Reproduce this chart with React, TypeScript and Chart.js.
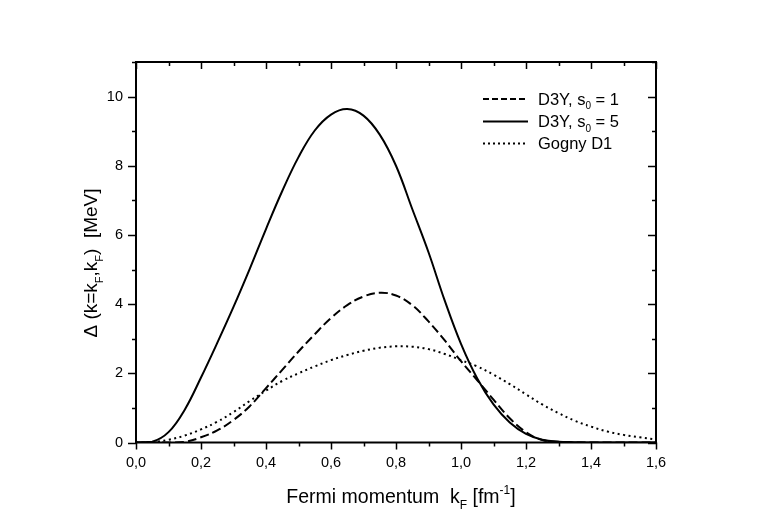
import { useEffect, useRef } from 'react';
import { Chart, registerables } from 'chart.js';

Chart.register(...registerables);

const kF = [0, 0.05, 0.1, 0.15, 0.2, 0.25, 0.3, 0.35, 0.4, 0.45, 0.5, 0.55, 0.6, 0.65, 0.7, 0.75, 0.8, 0.85, 0.9, 0.95, 1.0, 1.05, 1.1, 1.15, 1.2, 1.25, 1.3, 1.35, 1.4, 1.45, 1.5, 1.55, 1.6];
const d3yS1 = [0, 0, 0, 0.02, 0.15, 0.35, 0.65, 1.05, 1.57, 2.1, 2.63, 3.13, 3.6, 3.97, 4.22, 4.33, 4.25, 3.97, 3.5, 2.95, 2.35, 1.8, 1.24, 0.7, 0.3, 0.07, 0.02, 0.0, 0, 0, 0, 0, 0];
const d3yS5 = [0, 0.02, 0.3, 0.95, 1.88, 2.88, 3.92, 5.02, 6.17, 7.27, 8.25, 9.02, 9.48, 9.64, 9.45, 8.9, 8.0, 6.75, 5.5, 4.1, 2.85, 1.85, 1.1, 0.58, 0.25, 0.08, 0.02, 0.01, 0, 0, 0, 0, 0];
const gognyD1 = [0, 0.01, 0.08, 0.2, 0.38, 0.6, 0.88, 1.2, 1.5, 1.78, 2.0, 2.2, 2.38, 2.53, 2.65, 2.74, 2.78, 2.77, 2.7, 2.56, 2.38, 2.2, 1.96, 1.69, 1.39, 1.1, 0.85, 0.63, 0.46, 0.32, 0.22, 0.15, 0.09];

const xMajorTicks = [0, 0.2, 0.4, 0.6, 0.8, 1.0, 1.2, 1.4, 1.6];
const xMinorTicks = [0.1, 0.3, 0.5, 0.7, 0.9, 1.1, 1.3, 1.5];
const yMajorTicks = [0, 2, 4, 6, 8, 10];
const yMinorTicks = [1, 3, 5, 7, 9, 11];

const legendLabels = [
  [{ t: 'D3Y, s' }, { t: '0', k: 'sub' }, { t: ' = 1' }],
  [{ t: 'D3Y, s' }, { t: '0', k: 'sub' }, { t: ' = 5' }],
  [{ t: 'Gogny D1' }],
];
const xTitle = [{ t: 'Fermi momentum  k' }, { t: 'F', k: 'sub' }, { t: ' [fm' }, { t: '-1', k: 'sup' }, { t: ']' }];
const yTitle = [{ t: 'Δ (k=k' }, { t: 'F', k: 'sub' }, { t: ',k' }, { t: 'F', k: 'sub' }, { t: ')  [MeV]' }];

const FONT = "'Liberation Sans', Arial, sans-serif";

type Seg = { t: string; k?: string };

function drawRich(ctx: CanvasRenderingContext2D, segs: Seg[], x: number, y: number, size: number, align: 'left' | 'center') {
  const small = Math.round(size * 0.6);
  const widths = segs.map((s) => {
    ctx.font = `${s.k ? small : size}px ${FONT}`;
    return ctx.measureText(s.t).width;
  });
  const total = widths.reduce((a, b) => a + b, 0);
  let cx = align === 'center' ? x - total / 2 : x;
  ctx.textAlign = 'left';
  ctx.textBaseline = 'alphabetic';
  segs.forEach((s, i) => {
    ctx.font = `${s.k ? small : size}px ${FONT}`;
    let dy = 0;
    if (s.k === 'sub') dy = size * 0.3;
    if (s.k === 'sup') dy = -size * 0.45;
    ctx.fillText(s.t, cx, y + dy);
    cx += widths[i];
  });
}

const framePlugin = {
  id: 'framePlugin',
  afterDraw(chart: any) {
    const { ctx, chartArea } = chart;
    const { left, right, top, bottom } = chartArea;
    const xs = chart.scales.x;
    const ys = chart.scales.y;
    ctx.save();
    ctx.strokeStyle = '#000';
    ctx.fillStyle = '#000';
    ctx.lineWidth = 2;
    ctx.strokeRect(left, top, right - left, bottom - top);
    ctx.lineWidth = 1.5;
    ctx.beginPath();
    const xt = (vals: number[], len: number) => {
      vals.forEach((v) => {
        const p = Math.round(xs.getPixelForValue(v)) + 0.5;
        ctx.moveTo(p, bottom);
        ctx.lineTo(p, bottom + len);
        ctx.moveTo(p, top);
        ctx.lineTo(p, top + len);
      });
    };
    const yt = (vals: number[], len: number) => {
      vals.forEach((v) => {
        const p = Math.round(ys.getPixelForValue(v)) + 0.5;
        ctx.moveTo(left, p);
        ctx.lineTo(left - len, p);
        ctx.moveTo(right, p);
        ctx.lineTo(right - len, p);
      });
    };
    xt(xMajorTicks, 7);
    xt(xMinorTicks, 4);
    yt(yMajorTicks, 8);
    yt(yMinorTicks, 4);
    ctx.stroke();

    // titles
    drawRich(ctx, xTitle, 401, 503, 19.5, 'center');
    ctx.save();
    ctx.translate(97, 263);
    ctx.rotate(-Math.PI / 2);
    drawRich(ctx, yTitle, 0, 0, 19, 'center');
    ctx.restore();

    // legend
    const dashes = [[6, 3], [], [2, 3]];
    const rowY = [99, 121.5, 143.5];
    legendLabels.forEach((segs, i) => {
      ctx.beginPath();
      ctx.lineWidth = 2;
      ctx.setLineDash(dashes[i]);
      ctx.moveTo(483, rowY[i]);
      ctx.lineTo(528, rowY[i]);
      ctx.stroke();
      ctx.setLineDash([]);
      drawRich(ctx, segs, 538, rowY[i] + 5.5, 16.5, 'left');
    });
    ctx.restore();
  },
};

export default function App() {
  const ref = useRef<HTMLCanvasElement>(null);
  useEffect(() => {
    if (!ref.current) return;
    const mk = (vals: number[]) => kF.map((x, i) => ({ x, y: vals[i] }));
    const common = { borderColor: '#000', borderWidth: 2, pointRadius: 0, tension: 0.4, fill: false };
    const chart = new Chart(ref.current, {
      type: 'line',
      data: {
        datasets: [
          { label: 'D3Y, s0 = 1', data: mk(d3yS1), borderDash: [9, 4], ...common },
          { label: 'D3Y, s0 = 5', data: mk(d3yS5), ...common },
          { label: 'Gogny D1', data: mk(gognyD1), borderDash: [2, 3.5], ...common },
        ],
      },
      options: {
        animation: false,
        responsive: false,
        maintainAspectRatio: false,
        layout: { padding: { top: 62, right: 107, bottom: 0, left: 0 } },
        plugins: { legend: { display: false }, tooltip: { enabled: false }, title: { display: false } },
        scales: {
          x: {
            type: 'linear',
            min: 0,
            max: 1.6,
            grid: { display: false, drawTicks: false },
            border: { display: false },
            ticks: {
              stepSize: 0.2,
              padding: 12,
              color: '#000',
              font: { family: FONT, size: 14.5 },
              maxRotation: 0,
              callback: (v: any) => Number(v).toFixed(1).replace('.', ','),
            },
            afterFit: (s: any) => { s.height = 89.5; },
          },
          y: {
            type: 'linear',
            min: 0,
            max: 11,
            grid: { display: false, drawTicks: false },
            border: { display: false },
            ticks: {
              stepSize: 2,
              includeBounds: false,
              padding: 13,
              color: '#000',
              font: { family: FONT, size: 14.5 },
              callback: (v: any) => String(v),
            },
            afterFit: (s: any) => { s.width = 136; },
          },
        },
      },
      plugins: [framePlugin],
    } as any);
    return () => chart.destroy();
  }, []);
  return (
    <div style={{ position: 'absolute', left: 0, top: 0, width: 763, height: 532, background: '#fff' }}>
      <canvas ref={ref} width={763} height={532} style={{ width: 763, height: 532 }} />
    </div>
  );
}
